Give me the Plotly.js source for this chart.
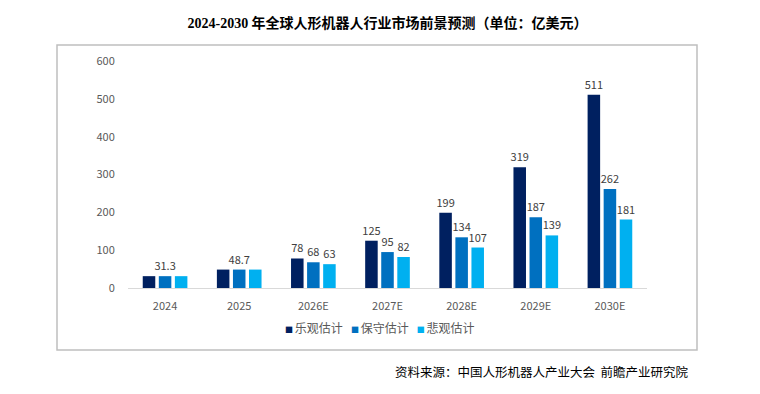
<!DOCTYPE html>
<html>
<head>
<meta charset="utf-8">
<script src="https://cdn.plot.ly/plotly-3.0.1.min.js"></script>
<style>
html,body{margin:0;padding:0;background:#fff;}
#chart{width:760px;height:394px;}
</style>
</head>
<body>
<div id="chart"></div>
<script>
const categories = ["2024", "2025", "2026E", "2027E", "2028E", "2029E", "2030E"];
const seriesNames = ["乐观估计", "保守估计", "悲观估计"];
const optimistic = [31.3, 48.7, 78, 125, 199, 319, 511];
const conservative = [31.3, 48.7, 68, 95, 134, 187, 262];
const pessimistic = [31.3, 48.7, 63, 82, 107, 139, 181];
const seriesColors = ["#002060", "#0070C0", "#00B0F0"];
// In 2024 and 2025 all three estimates are equal; only the middle bar carries a label
const sharedLabelCategories = ["2024", "2025"];
const yTicks = [0, 100, 200, 300, 400, 500, 600];

const allSeries = [optimistic, conservative, pessimistic];
const fontFamily = '"Noto Sans CJK SC", "Noto Sans", sans-serif';

const traces = allSeries.map((vals, i) => ({
  type: 'bar',
  name: seriesNames[i],
  x: categories,
  y: vals,
  marker: {color: seriesColors[i]},
  text: vals.map((v, j) => (i !== 1 && sharedLabelCategories.includes(categories[j])) ? '' : String(v)),
  texttemplate: '%{text}',
  textposition: 'outside',
  constraintext: 'none',
  cliponaxis: false,
  textfont: {family: fontFamily, size: 11, color: '#404040'},
  showlegend: false,
  hoverinfo: 'skip'
}));

const plotL = 128, plotR = 647, plotT = 61, plotB = 288;
const pw = plotR - plotL, ph = plotB - plotT;
const px = x => (x - plotL) / pw;
const py = y => (plotB - y) / ph;

// legend drawn as text: small coloured square followed by series name
const legendText = seriesNames.map((n, i) =>
  '<span style="font-size:8px;color:' + seriesColors[i] + '">■&nbsp;</span>' + n
).join('&nbsp;&nbsp;&nbsp;');

const layout = {
  width: 760,
  height: 394,
  margin: {l: plotL, r: 760 - plotR, t: plotT, b: 394 - plotB, pad: 0},
  paper_bgcolor: '#ffffff',
  plot_bgcolor: 'rgba(0,0,0,0)',
  showlegend: false,
  barmode: 'group',
  bargap: 0.35,
  bargroupgap: 0.22,
  title: {
    text: '<b><span style="font-family:\'Liberation Serif\', \'Times New Roman\', serif">2024-2030</span> 年全球人形机器人行业市场前景预测（单位：亿美元）</b>',
    font: {family: fontFamily, size: 14, color: '#000000'},
    x: 0.5, xref: 'paper', xanchor: 'center',
    y: 1 - 23 / 394, yref: 'container', yanchor: 'middle'
  },
  xaxis: {
    type: 'category',
    showgrid: false,
    zeroline: false,
    showline: true,
    linecolor: '#d9d9d9',
    linewidth: 1,
    ticks: 'outside',
    ticklen: 8,
    tickcolor: 'rgba(0,0,0,0)',
    tickfont: {family: fontFamily, size: 11, color: '#595959'},
    fixedrange: true
  },
  yaxis: {
    range: [0, 600],
    tickvals: yTicks,
    showgrid: false,
    zeroline: false,
    showline: false,
    ticks: 'outside',
    ticklen: 10,
    tickcolor: 'rgba(0,0,0,0)',
    tickfont: {family: fontFamily, size: 11, color: '#595959'},
    fixedrange: true
  },
  shapes: [{
    type: 'rect', xref: 'paper', yref: 'paper',
    x0: px(57), x1: px(697), y0: py(350), y1: py(45),
    line: {color: '#bfbfbf', width: 1.5},
    fillcolor: 'rgba(0,0,0,0)',
    layer: 'below'
  }],
  annotations: [{
    text: legendText,
    xref: 'paper', yref: 'paper',
    x: px(380), xanchor: 'center',
    y: py(327), yanchor: 'middle',
    showarrow: false,
    font: {family: fontFamily, size: 12, color: '#595959'}
  }, {
    text: '资料来源：中国人形机器人产业大会  前瞻产业研究院',
    xref: 'paper', yref: 'paper',
    x: px(691), xanchor: 'right',
    y: py(371), yanchor: 'middle',
    showarrow: false,
    font: {family: fontFamily, size: 12.5, color: '#000000'}
  }]
};

Plotly.newPlot('chart', traces, layout, {displayModeBar: false, staticPlot: true});
</script>
</body>
</html>
